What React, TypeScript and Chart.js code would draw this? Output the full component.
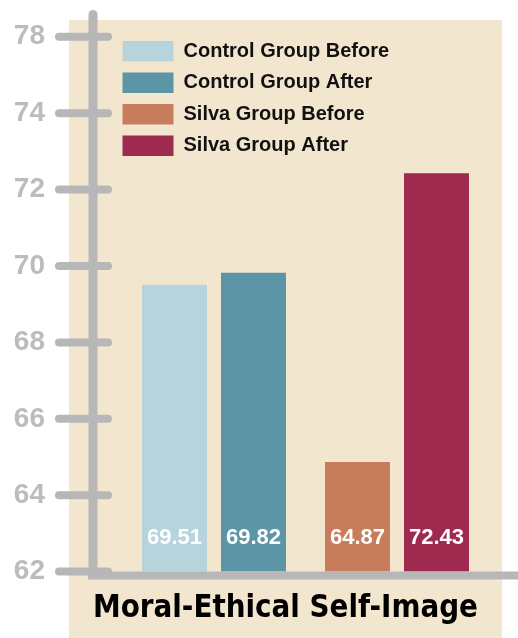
import { useEffect, useRef } from "react";
import { Chart, registerables } from "chart.js";

Chart.register(...registerables);

const categories = ["Control", "Silva"];
const seriesNames = [
  "Control Group Before",
  "Control Group After",
  "Silva Group Before",
  "Silva Group After",
];
const controlBefore = [69.51, null];
const controlAfter = [69.82, null];
const silvaBefore = [null, 64.87];
const silvaAfter = [null, 72.43];
const seriesColors = ["#b7d3dc", "#5b95a6", "#c77c5c", "#9e2a50"];
const yTickValues = [62, 64, 66, 68, 70, 72, 74, 76];
const yTickLabels = ["62", "64", "66", "68", "70", "72", "74", "78"];
const xTitle = "Moral-Ethical Self-Image";

const SANS = "'Liberation Sans', Arial, Helvetica, sans-serif";
const NARROW = "'DejaVu Sans Condensed', 'Liberation Sans Narrow', 'Liberation Sans', sans-serif";

const decor = {
  id: "decor",
  beforeDraw(chart: any) {
    const { ctx } = chart;
    ctx.save();
    ctx.fillStyle = "#f3e6cf";
    ctx.fillRect(69, 20, 433, 618);
    ctx.restore();
  },
  afterLayout(chart: any) {
    const ca = chart.chartArea;
    const lg = chart.legend;
    if (lg) {
      lg.left = ca.left - 11;
      lg.top = 30;
      lg.right = ca.right;
      lg.bottom = ca.bottom;
    }
    const tb = chart.titleBlock;
    if (tb) {
      tb.left = ca.left - 29.5;
      tb.right = ca.right - 10.5;
    }
  },
  afterDatasetsDraw(chart: any) {
    const { ctx, chartArea, scales } = chart;
    const y = scales.y;
    const ax = chartArea.left - 29.5;
    ctx.save();
    ctx.strokeStyle = "#b7b7b7";
    ctx.lineCap = "round";
    ctx.lineWidth = 8;
    y.ticks.forEach((t: any) => {
      const py = y.getPixelForValue(t.value);
      ctx.beginPath();
      ctx.moveTo(ax - 34, py);
      ctx.lineTo(ax + 15, py);
      ctx.stroke();
    });
    ctx.lineWidth = 9;
    ctx.beginPath();
    ctx.moveTo(ax, chartArea.top + 4.5);
    ctx.lineTo(ax, chartArea.bottom + 3);
    ctx.stroke();
    ctx.lineCap = "butt";
    ctx.lineWidth = 8;
    ctx.beginPath();
    ctx.moveTo(ax - 5, chartArea.bottom + 4);
    ctx.lineTo(chart.width, chartArea.bottom + 4);
    ctx.stroke();

    ctx.fillStyle = "#ffffff";
    ctx.font = `bold 22px ${SANS}`;
    ctx.textAlign = "center";
    ctx.textBaseline = "middle";
    chart.data.datasets.forEach((ds: any, i: number) => {
      const meta = chart.getDatasetMeta(i);
      meta.data.forEach((bar: any, j: number) => {
        const v = ds.data[j];
        if (v == null) return;
        ctx.fillText(v.toFixed(2), bar.x, chartArea.bottom - 34);
      });
    });
    ctx.restore();
  },
};

export default function App() {
  const ref = useRef<HTMLCanvasElement>(null);
  useEffect(() => {
    if (!ref.current) return;
    const seriesData = [controlBefore, controlAfter, silvaBefore, silvaAfter];
    const chart = new Chart(ref.current, {
      type: "bar",
      data: {
        labels: categories,
        datasets: seriesNames.map((name, i) => ({
          label: name,
          data: seriesData[i],
          backgroundColor: seriesColors[i],
          borderWidth: 0,
          skipNull: true,
          categoryPercentage: 0.863,
          barPercentage: 0.823,
        })) as any,
      },
      options: {
        responsive: false,
        animation: false,
        layout: { padding: { left: 0, right: 29.5, top: 10, bottom: 0 } },
        scales: {
          x: { display: false },
          y: {
            min: 62,
            max: 76.7,
            grid: { display: false, drawTicks: false, tickLength: 0 },
            border: { display: false },
            afterBuildTicks: (s: any) => {
              s.ticks = yTickValues.map((v) => ({ value: v }));
            },
            afterFit: (s: any) => {
              s.width = 122.5;
              s.paddingTop = 0;
              s.paddingBottom = 0;
            },
            ticks: {
              padding: 77.5,
              color: "#bcbcbc",
              font: { family: SANS, size: 28, weight: "bold" },
              callback: (_v: any, i: number) => yTickLabels[i],
              autoSkip: false,
            },
          },
        },
        plugins: {
          legend: {
            position: "chartArea" as any,
            align: "start",
            labels: {
              boxWidth: 51,
              boxHeight: 20.5,
              padding: 11,
              color: "#111111",
              font: { family: SANS, size: 20, weight: "bold" },
            },
          },
          title: {
            display: true,
            text: xTitle,
            position: "bottom",
            color: "#000000",
            font: { family: NARROW, size: 32, weight: "bold", lineHeight: 1.2 },
            padding: { top: 18, bottom: 10 },
          },
          tooltip: { enabled: false },
        },
      },
      plugins: [decor],
    });
    return () => chart.destroy();
  }, []);
  return (
    <div style={{ position: "fixed", left: 0, top: 0, width: 518, height: 638 }}>
      <canvas ref={ref} width={518} height={638} />
    </div>
  );
}
